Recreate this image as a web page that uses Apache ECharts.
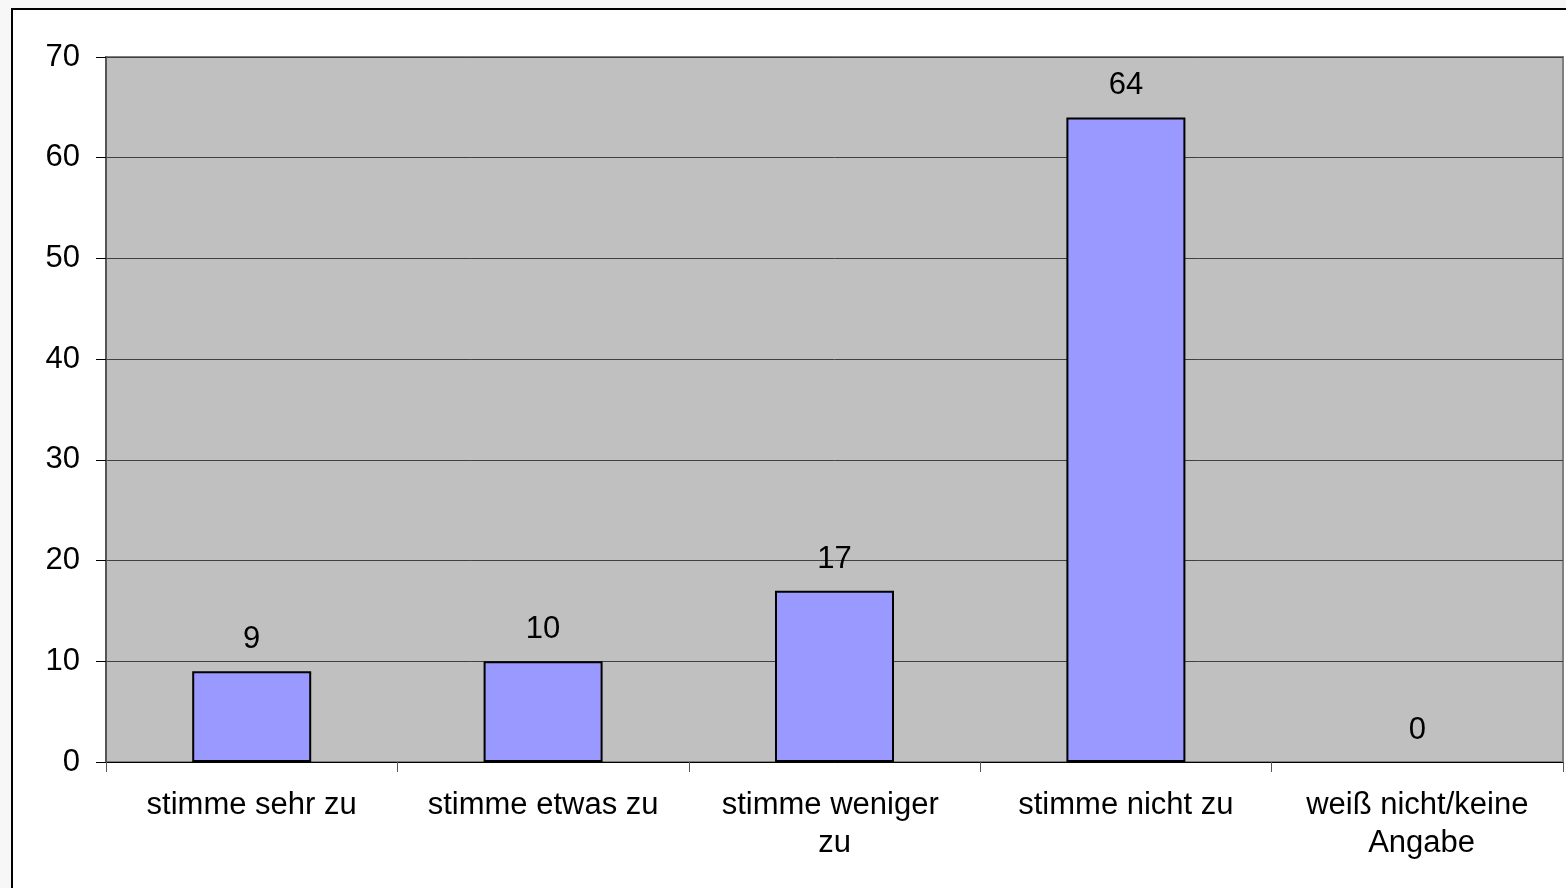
<!DOCTYPE html>
<html>
<head>
<meta charset="utf-8">
<script src="https://cdn.jsdelivr.net/npm/echarts@6/dist/echarts.min.js"></script>
<style>
  html, body { margin: 0; padding: 0; background: #f7f7f7; }
  #chart { width: 1566px; height: 888px; }
</style>
</head>
<body>
<div id="chart"></div>
<script>
// categories and values
var categories = ["stimme sehr zu", "stimme etwas zu", "stimme weniger zu", "stimme nicht zu", "weiß nicht/keine Angabe"];
var values = [9, 10, 17, 64, 0];
var yTicks = { min: 0, max: 70, interval: 10 };

var fontFamily = "'Liberation Sans', Arial, sans-serif";

// a zero bar draws no outline in the original
var barData = values.map(function(v) {
    return v === 0 ? { value: v, itemStyle: { borderWidth: 0 } } : v;
});

var chart = echarts.init(document.getElementById("chart"));
chart.setOption({
    animation: false,
    textStyle: { fontFamily: fontFamily },
    graphic: [
        {
            type: "rect",
            z: -10,
            silent: true,
            shape: { x: 12, y: 9, width: 1600, height: 920 },
            style: { fill: "#ffffff", stroke: "#000000", lineWidth: 2 }
        }
    ],
    grid: {
        left: 106,
        right: 3,
        top: 57,
        bottom: 126,
        show: true,
        backgroundColor: "#c0c0c0",
        borderColor: "#808080",
        borderWidth: 2
    },
    xAxis: {
        type: "category",
        data: categories,
        axisLine: { show: true, lineStyle: { color: "#000", width: 1 } },
        axisTick: { show: true, alignWithLabel: false, interval: 0, length: 10, lineStyle: { color: "#555" } },
        axisLabel: {
            interval: 0,
            margin: 24,
            color: "#000",
            fontSize: 31,
            lineHeight: 38,
            width: 240,
            overflow: "break",
            fontFamily: fontFamily
        },
        splitLine: { show: false }
    },
    yAxis: {
        type: "value",
        min: yTicks.min,
        max: yTicks.max,
        interval: yTicks.interval,
        axisLine: { show: true, lineStyle: { color: "#555", width: 2 } },
        axisTick: { show: true, length: 10, lineStyle: { color: "#000" } },
        axisLabel: { margin: 26, color: "#000", fontSize: 31, fontFamily: fontFamily },
        splitLine: { show: true, lineStyle: { color: "#404040", width: 1 } }
    },
    series: [
        {
            type: "bar",
            data: barData,
            barWidth: 119,
            itemStyle: { color: "#9999ff", borderColor: "#000", borderWidth: 2 },
            label: {
                show: true,
                position: "top",
                distance: 16,
                color: "#000",
                fontSize: 31,
                fontFamily: fontFamily
            }
        }
    ]
});
</script>
</body>
</html>
